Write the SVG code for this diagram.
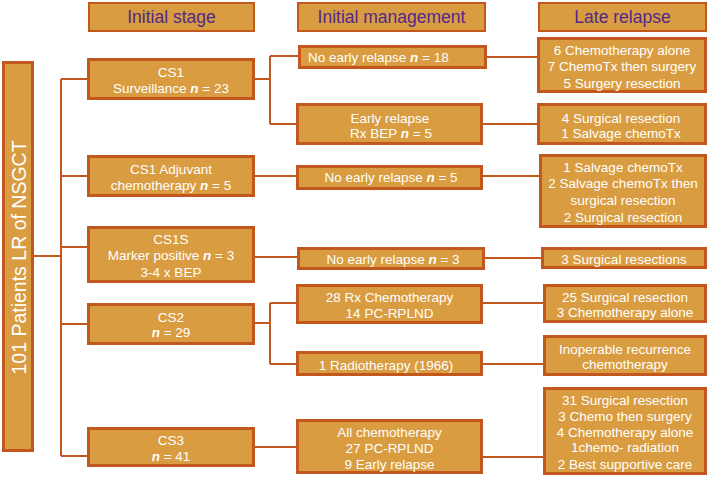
<svg xmlns="http://www.w3.org/2000/svg" width="708" height="477" viewBox="0 0 708 477">
<style>
.b{fill:#D99C40;stroke:#C2581E;stroke-width:3}
.h{fill:#D99C40;stroke:#C2581E;stroke-width:2}
.t{font-family:"Liberation Sans",Arial,sans-serif;font-size:13.5px;fill:#ffffff;text-anchor:middle}
.ht{font-family:"Liberation Sans",Arial,sans-serif;font-size:17.5px;fill:#52288A;text-anchor:middle}
.n{font-style:italic;font-weight:bold}
.c{fill:none;stroke:#C2581E;stroke-width:2}
</style>
<rect width="708" height="477" fill="#ffffff"/>
<g id="connectors">
<path class="c" d="M34,256H61M61,79V456M61,79H88M61,176H88M61,247H88M61,324H88M61,456H88"/>
<path class="c" d="M254,79H270M270,56V124M270,56H299M270,124H297M487,57H537M483,124H537"/>
<path class="c" d="M255,176H297M482,176H539"/>
<path class="c" d="M255,257H298M485,258H541"/>
<path class="c" d="M254,323H270M270,303V364M270,303H297M270,364H297M483,303H543M482,364H543"/>
<path class="c" d="M254,447H297M483,457H543"/>
</g>
<g id="hdr-stage"><rect class="h" x="89" y="3" width="165" height="28"/><text class="ht" x="171.5" y="23.3">Initial stage</text></g>
<g id="hdr-mgmt"><rect class="h" x="298" y="3" width="187" height="28"/><text class="ht" x="391.5" y="23.3">Initial management</text></g>
<g id="hdr-late"><rect class="h" x="539" y="3" width="167" height="28"/><text class="ht" x="622.5" y="23.3">Late relapse</text></g>
<g id="root"><rect class="b" x="3.5" y="62.5" width="29" height="388"/><text transform="translate(25.5,257.5) rotate(-90)" style="font-family:'Liberation Sans',Arial,sans-serif;font-size:19.5px;fill:#fff;text-anchor:middle">101 Patients LR of NSGCT</text></g>
<g id="cs1"><rect class="b" x="88.5" y="59.5" width="165" height="39"/><text class="t" x="171" y="76.5">CS1</text><text class="t" x="171" y="92.5">Surveillance <tspan class="n">n</tspan> = 23</text></g>
<g id="cs1adj"><rect class="b" x="88.5" y="156.5" width="165" height="39"/><text class="t" x="171" y="173.5">CS1 Adjuvant</text><text class="t" x="171" y="189.5">chemotherapy <tspan class="n">n</tspan> = 5</text></g>
<g id="cs1s"><rect class="b" x="88.5" y="227.5" width="165" height="54"/><text class="t" x="171" y="243.5">CS1S</text><text class="t" x="171" y="259.5">Marker positive <tspan class="n">n</tspan> = 3</text><text class="t" x="171" y="276.5">3-4 x BEP</text></g>
<g id="cs2"><rect class="b" x="88.5" y="304.5" width="165" height="39"/><text class="t" x="171" y="321.5">CS2</text><text class="t" x="171" y="336.5"><tspan class="n">n</tspan> = 29</text></g>
<g id="cs3"><rect class="b" x="88.5" y="428.5" width="165" height="37"/><text class="t" x="171" y="444.5">CS3</text><text class="t" x="171" y="460.5"><tspan class="n">n</tspan> = 41</text></g>
<g id="m-ner18"><rect class="b" x="299.5" y="46.5" width="186" height="21"/><text class="t" x="308" y="61.5" style="text-anchor:start">No early relapse <tspan class="n">n</tspan> = 18</text></g>
<g id="m-er"><rect class="b" x="297.5" y="104.5" width="184" height="39"/><text class="t" x="390" y="122.5">Early relapse</text><text class="t" x="391" y="137.5">Rx BEP <tspan class="n">n</tspan> = 5</text></g>
<g id="m-ner5"><rect class="b" x="297.5" y="166.5" width="184" height="22"/><text class="t" x="391" y="181.5">No early relapse <tspan class="n">n</tspan> = 5</text></g>
<g id="m-ner3"><rect class="b" x="298.5" y="248.5" width="185" height="20"/><text class="t" x="393" y="263.5">No early relapse <tspan class="n">n</tspan> = 3</text></g>
<g id="m-28rx"><rect class="b" x="297.5" y="285.5" width="184" height="37"/><text class="t" x="389.5" y="301.5">28 Rx Chemotherapy</text><text class="t" x="389.5" y="317.5">14 PC-RPLND</text></g>
<g id="m-radio"><rect class="b" x="297.5" y="352.5" width="184" height="22"/><text class="t" x="386" y="369.5">1  Radiotherapy (1966)</text></g>
<g id="m-allchemo"><rect class="b" x="297.5" y="420.5" width="184" height="52"/><text class="t" x="389.5" y="436.5">All chemotherapy</text><text class="t" x="389.5" y="452.5">27 PC-RPLND</text><text class="t" x="389.5" y="468.5">9 Early relapse</text></g>
<g id="l1"><rect class="b" x="538.5" y="38.5" width="167" height="53"/><text class="t" x="622" y="54.5">6 Chemotherapy alone</text><text class="t" x="622" y="70.5">7 ChemoTx then surgery</text><text class="t" x="622" y="87.5">5 Surgery resection</text></g>
<g id="l2"><rect class="b" x="538.5" y="104.5" width="167" height="39"/><text class="t" x="621" y="122.5">4 Surgical resection</text><text class="t" x="621" y="137.5">1 Salvage chemoTx</text></g>
<g id="l3"><rect class="b" x="540.5" y="155.5" width="165" height="71"/><text class="t" x="623" y="171.5">1 Salvage chemoTx</text><text class="t" x="623" y="187.5">2 Salvage chemoTx then</text><text class="t" x="623" y="205">surgical resection</text><text class="t" x="623" y="221.5">2 Surgical resection</text></g>
<g id="l4"><rect class="b" x="542.5" y="248.5" width="163" height="19"/><text class="t" x="624" y="263.5">3 Surgical resections</text></g>
<g id="l5"><rect class="b" x="544.5" y="285.5" width="161" height="36"/><text class="t" x="625" y="301.5">25 Surgical resection</text><text class="t" x="625" y="316.5">3 Chemotherapy alone</text></g>
<g id="l6"><rect class="b" x="544.5" y="336.5" width="161" height="38"/><text class="t" x="625" y="353.5">Inoperable recurrence</text><text class="t" x="625" y="368.5">chemotherapy</text></g>
<g id="l7"><rect class="b" x="544.5" y="388.5" width="161" height="85"/><text class="t" x="625" y="404.5">31 Surgical resection</text><text class="t" x="625" y="420.5">3 Chemo then surgery</text><text class="t" x="625" y="436.5">4 Chemotherapy alone</text><text class="t" x="625" y="451.5">1chemo- radiation</text><text class="t" x="625" y="468.5">2 Best supportive care</text></g>
</svg>
